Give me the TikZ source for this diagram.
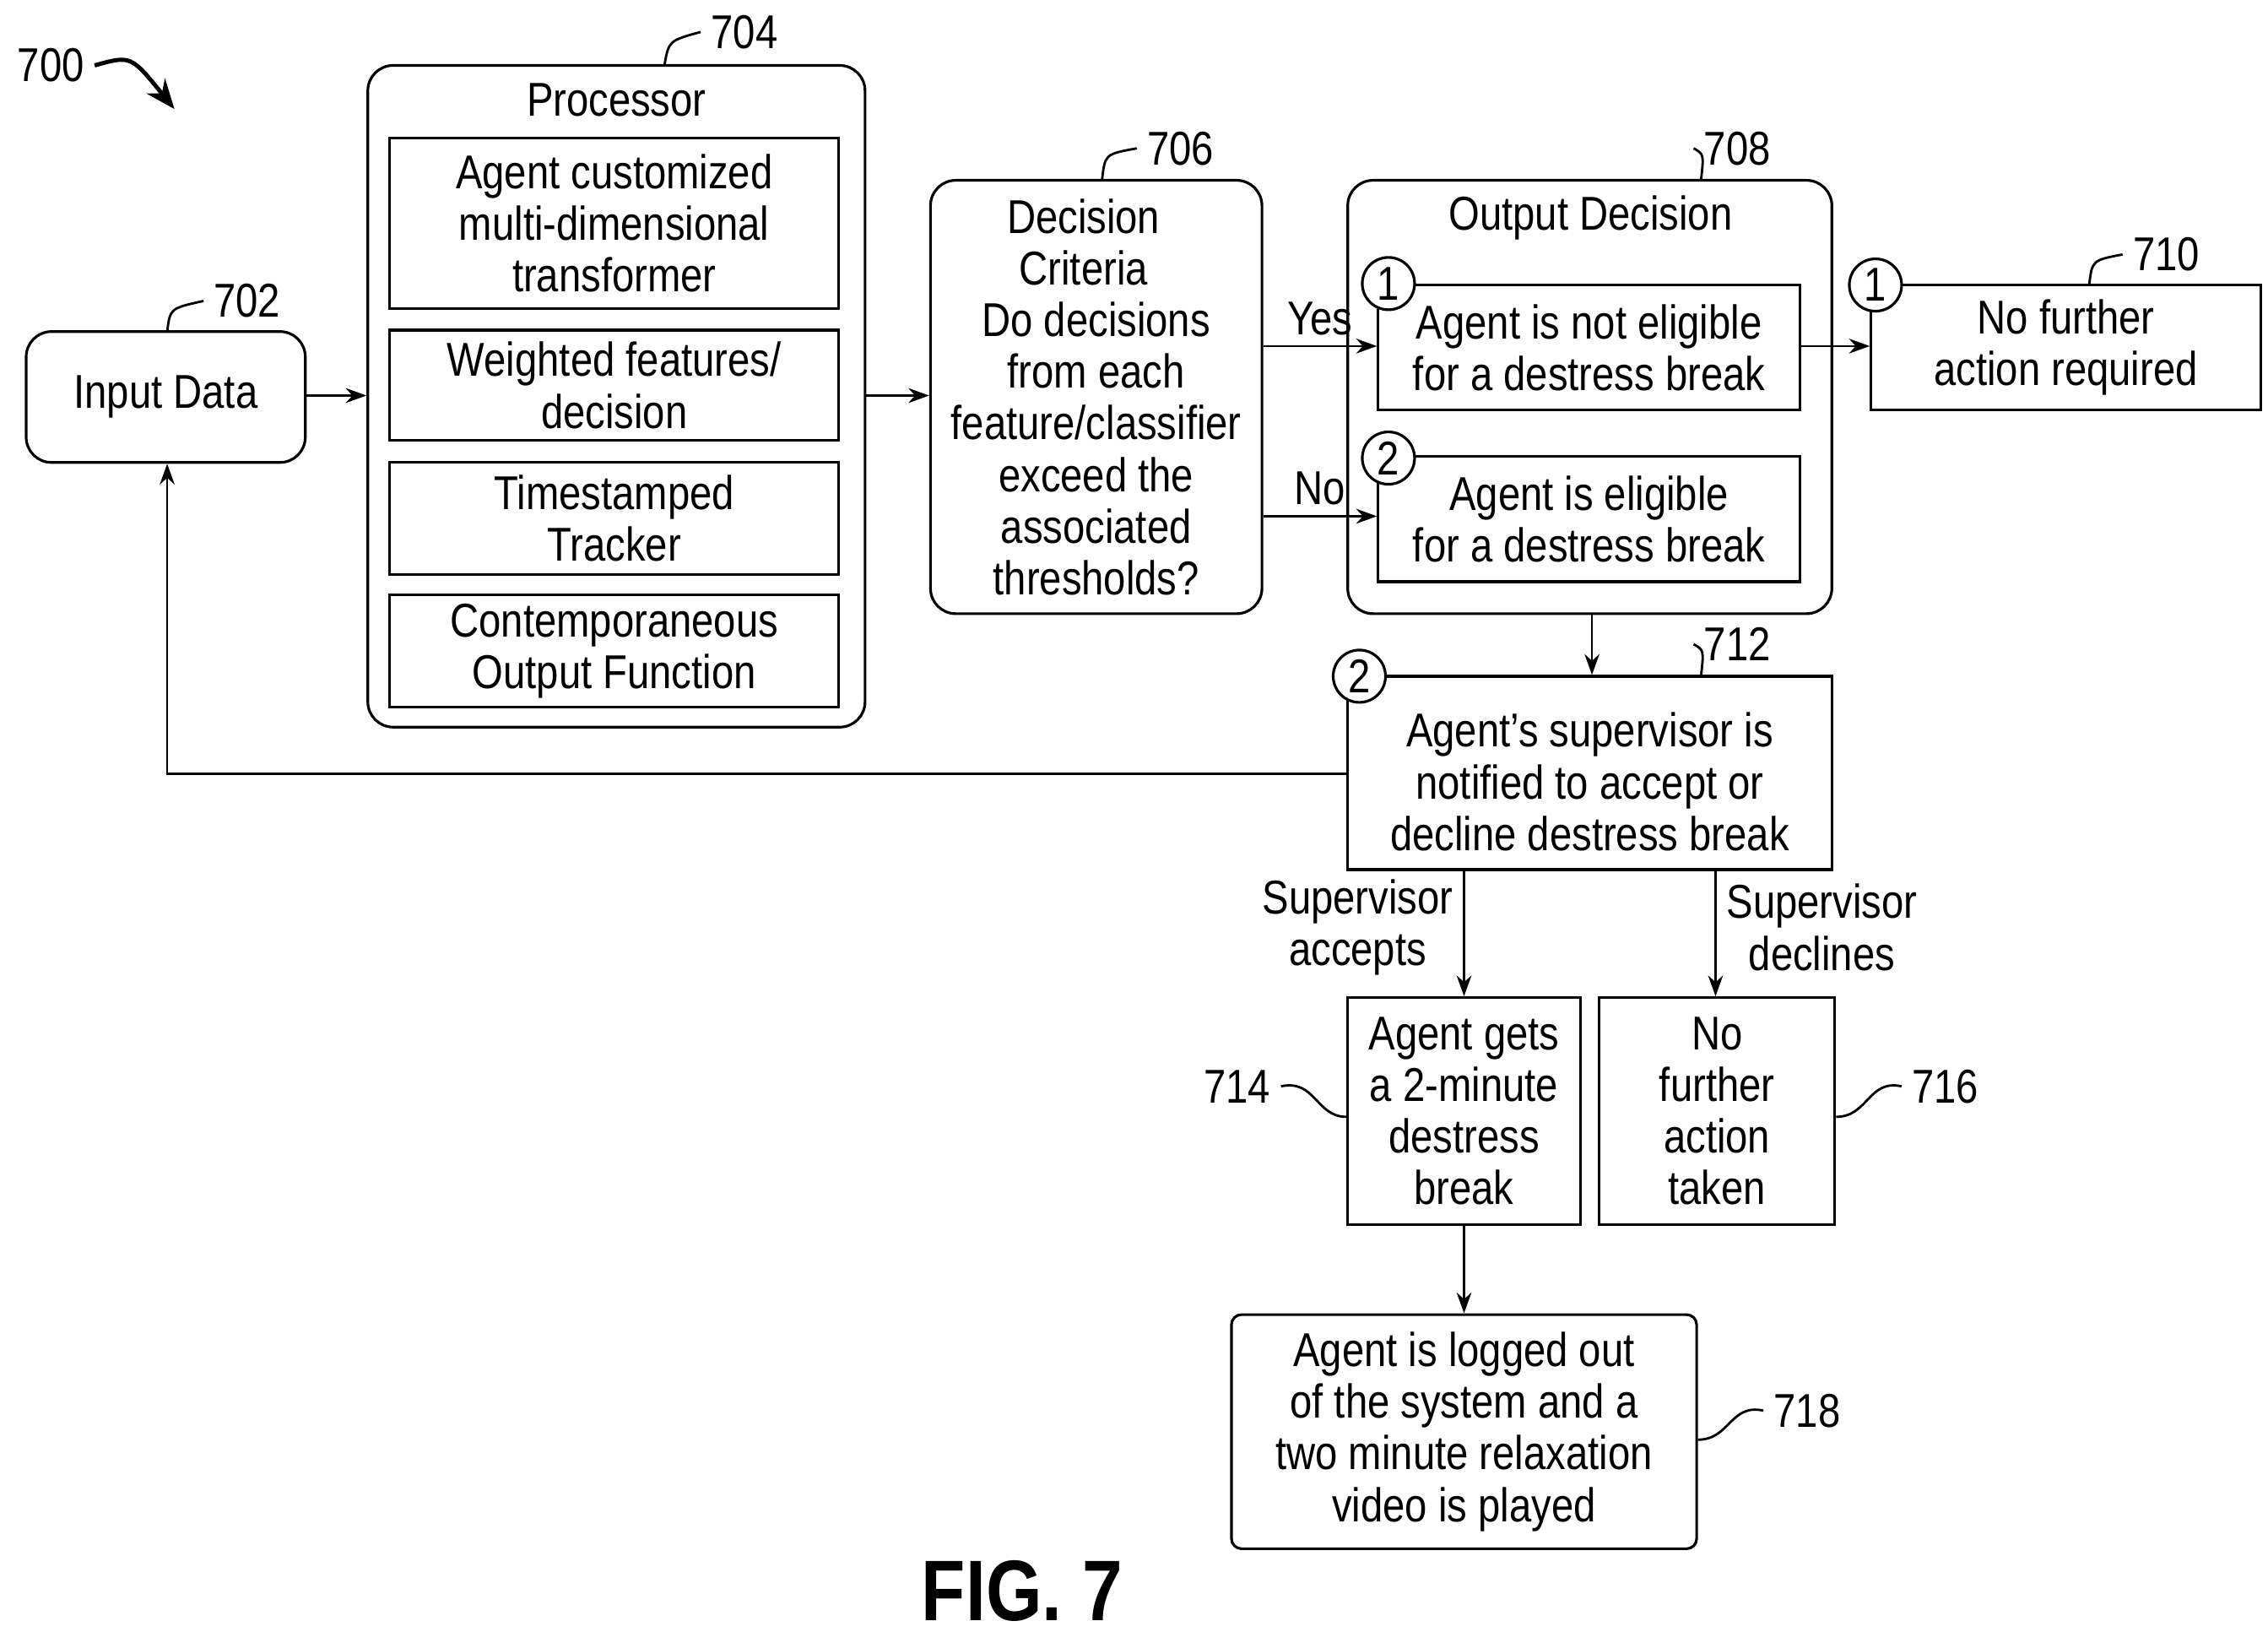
\documentclass[tikz,border=0pt]{standalone}
\usepackage{fontspec}
\setmainfont[FakeStretch=0.84]{Liberation Sans}
\usetikzlibrary{fit,arrows.meta}

\begin{document}
\begin{tikzpicture}[x=0.01722cm, y=-0.01722cm,
  font=\fontsize{16}{17.4}\selectfont,
  boxStyle/.style={draw, line width=0.9pt, inner sep=0pt},
  roundStyle/.style={boxStyle, rounded corners=0.3cm},
  txt/.style={align=center, inner sep=0pt},
  numStyle/.style={draw, circle, fill=white, line width=0.9pt, minimum size=0.62cm, inner sep=0pt},
  flow/.style={-{Stealth[length=7pt,width=5pt]}, line width=0.8pt},
  lead/.style={line width=0.8pt}
]
\useasboundingbox (0,0) rectangle (1560,1122);

% reference numerals
\node (n700) at (35,45) {700};
\draw [line width=1.4pt, -{Stealth[length=10pt,width=8pt]}] (n700.east) .. controls (90,38) .. (120,75);

% boxes
\node [roundStyle, fit={(18,228)(210,318)}] (input) {};
\node [txt] at (input) {Input Data};
\node [roundStyle, fit={(253,45)(595,500)}] (proc) {};
\node at (424,69) {Processor};
\node [boxStyle, fit={(268,95)(577,212)}] (acmt) {};
\node [txt] at (acmt) {Agent customized\\multi-dimensional\\transformer};
\node [boxStyle, fit={(268,227)(577,303)}] (wfd) {};
\node [txt] at (wfd) {Weighted features/\\decision};
\node [boxStyle, fit={(268,318)(577,395)}] (tst) {};
\node [txt] at (tst) {Timestamped\\Tracker};
\node [boxStyle, fit={(268,409)(577,486)}] (cof) {};
\node [txt] at (cof) {Contemporaneous\\Output Function};

\node [roundStyle, fit={(640,124)(868,422)}] (crit) {};
\node [txt] at (crit) {\hspace*{-0.3cm}Decision\\\hspace*{-0.3cm}Criteria\\Do decisions\\from each\\feature/classifier\\exceed the\\associated\\thresholds?};

\node [roundStyle, fit={(927,124)(1260,422)}] (outd) {};
\node at (1094,150) {Output Decision};
\node [boxStyle, fit={(948,196)(1238,282)}] (noelig) {};
\node [txt] at (noelig) {Agent is not eligible\\for a destress break};
\node [boxStyle, fit={(948,314)(1238,400)}] (elig) {};
\node [txt] at (elig) {Agent is eligible\\for a destress break};
\node [numStyle] (c1a) at (955,195) {1};
\node [numStyle] (c2a) at (955,315) {2};

\node [boxStyle, fit={(1287,196)(1555,282)}] (nofurther) {};
\node [txt] at (nofurther) {No further\\action required};
\node [numStyle] (c1b) at (1290,196) {1};

\node [boxStyle, fit={(927,465)(1260,598)}] (notify) {};
\node [txt] at ([yshift=-3]notify) {Agent's supervisor is\\notified to accept or\\decline destress break};
\node [numStyle] (c2b) at (935,465) {2};

\node [boxStyle, fit={(927,686)(1087,842)}] (gets) {};
\node [txt] at (gets) {Agent gets\\a 2-minute\\destress\\break};
\node [boxStyle, fit={(1100,686)(1262,842)}] (taken) {};
\node [txt] at (taken) {No\\further\\action\\taken};
\node [roundStyle, rounded corners=0.12cm, fit={(847,904)(1167,1065)}] (logged) {};
\node [txt] at (logged) {Agent is logged out\\of the system and a\\two minute relaxation\\video is played};

% connectors
\draw [flow] (input.east |- 0,272) -- (proc.west |- 0,272);
\draw [flow] (proc.east |- 0,272) -- (crit.west |- 0,272);
\draw [flow] (crit.east |- 0,238) -- node [above] {Yes} (noelig.west |- 0,238);
\draw [flow] (crit.east |- 0,355) -- node [above] {No} (elig.west |- 0,355);
\draw [flow] (noelig.east |- 0,238) -- (nofurther.west |- 0,238);
\draw [flow] (outd.south -| 1095,0) -- (notify.north -| 1095,0);
\draw [flow] (notify.west |- 0,532) -| (input.south -| 115,0);
\draw [flow] (notify.south -| 1007,0) -- node [left, align=center, pos=0.45] {Supervisor\\accepts} (gets.north -| 1007,0);
\draw [flow] (notify.south -| 1180,0) -- node [right, align=center, pos=0.45] {Supervisor\\declines} (taken.north -| 1180,0);
\draw [flow] (gets.south -| 1007,0) -- (logged.north -| 1007,0);

% numeral leaders
\node (n702) at (170,207) {702};
\draw [lead] (115,228) .. controls (117,212) .. (n702.west);
\node (n704) at (512,22) {704};
\draw [lead] (457,45) .. controls (460,28) .. (n704.west);
\node (n706) at (812,102) {706};
\draw [lead] (758,124) .. controls (760,106) .. (n706.west);
\node (n708) at (1195,102) {708};
\draw [lead] (1170,124) .. controls (1172,106) .. (n708.west);
\node (n710) at (1490,175) {710};
\draw [lead] (1437,196) .. controls (1439,179) .. (n710.west);
\node (n712) at (1195,443) {712};
\draw [lead] (1170,465) .. controls (1172,447) .. (n712.west);
\node (n714) at (851,747) {714};
\draw [lead] (n714.east) .. controls (905,742) and (905,768) .. (gets.west |- 0,768);
\node (n716) at (1338,747) {716};
\draw [lead] (taken.east |- 0,768) .. controls (1285,768) and (1285,742) .. (n716.west);
\node (n718) at (1243,970) {718};
\draw [lead] (logged.east |- 0,990) .. controls (1190,990) and (1190,965) .. (n718.west);

\node [font=\fontsize{29}{34}\selectfont\bfseries] (fig) at (703,1094) {FIG. 7};
\end{tikzpicture}
\end{document}
